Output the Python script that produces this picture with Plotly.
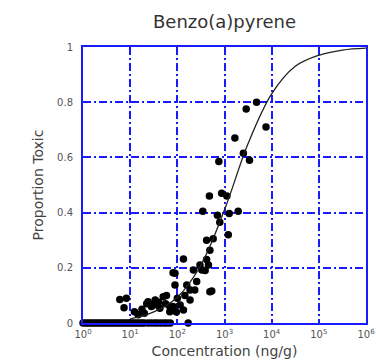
import plotly.graph_objects as go

# Sediment toxicity observations for benzo(a)pyrene
# log10 concentration (ng/g) and proportion of samples toxic
obs_log_conc = [
    # non-toxic samples at the low end
    0.00, 0.05, 0.10, 0.15, 0.20, 0.25, 0.30, 0.35, 0.40, 0.45, 0.50, 0.55,
    0.60, 0.65, 0.70, 0.75, 0.80, 0.85, 0.90, 0.95, 1.00, 1.05, 1.10, 1.15,
    1.20, 1.25, 1.30, 1.38, 1.45, 1.52, 1.58, 1.65, 1.72, 1.78, 1.85, 2.23,
    # low-proportion cluster
    0.78, 0.92, 0.87, 1.09, 1.17, 1.30, 1.35, 1.38, 1.45, 1.50, 1.53, 1.60,
    1.63, 1.70, 1.75, 1.77, 1.84, 1.84, 1.91, 1.98, 2.00, 2.06, 2.13, 2.16,
    2.27, 2.37, 2.69, 1.25,
    # rising section
    1.95, 1.95, 1.91, 2.13, 2.20, 2.27, 2.34, 2.41, 2.48, 2.52, 2.59, 2.62,
    2.66, 2.73, 2.69, 2.62, 2.76, 3.08, 2.90,
    # upper section
    2.54, 2.85, 3.10, 3.29, 2.68, 2.94, 3.05, 2.88, 3.40, 3.53, 3.22, 3.88,
    3.46, 3.68,
]
obs_prop_toxic = [
    0, 0, 0, 0, 0, 0, 0, 0, 0, 0, 0, 0,
    0, 0, 0, 0, 0, 0, 0, 0, 0, 0, 0, 0,
    0, 0, 0, 0, 0, 0, 0, 0, 0, 0, 0, 0,
    0.085, 0.090, 0.055, 0.041, 0.030, 0.035, 0.070, 0.077, 0.060, 0.065, 0.083, 0.075,
    0.053, 0.095, 0.070, 0.100, 0.060, 0.041, 0.060, 0.040, 0.090, 0.065, 0.047, 0.100,
    0.083, 0.120, 0.113, 0.050,
    0.138, 0.180, 0.182, 0.232, 0.138, 0.120, 0.192, 0.150, 0.210, 0.192, 0.190, 0.230,
    0.210, 0.116, 0.264, 0.300, 0.305, 0.320, 0.365,
    0.405, 0.390, 0.397, 0.405, 0.460, 0.470, 0.460, 0.585, 0.615, 0.590, 0.670, 0.710,
    0.775, 0.800,
]

# Fitted logistic response curve (log10 concentration, proportion toxic)
fit_log_conc = [1.0, 1.5, 2.0, 2.5, 3.0, 3.5, 4.0, 4.5, 5.0, 5.5, 6.0]
fit_prop_toxic = [0.015, 0.04, 0.093, 0.21, 0.41, 0.65, 0.83, 0.93, 0.97, 0.989, 0.996]

# Axis ticks
x_tick_exponents = [0, 1, 2, 3, 4, 5, 6]
y_tick_values = [0, 0.2, 0.4, 0.6, 0.8, 1]
y_tick_labels = ["0", "0.2", "0.4", "0.6", "0.8", "1"]

obs_conc = [10 ** v for v in obs_log_conc]
fit_conc = [10 ** v for v in fit_log_conc]

BLUE = "#1a1aff"
GREY = "#555555"
FONT = "DejaVu Sans"

fig = go.Figure()
fig.add_trace(go.Scatter(
    x=obs_conc, y=obs_prop_toxic, mode="markers",
    marker=dict(size=7.5, color="black"),
    cliponaxis=False, hoverinfo="skip",
))
fig.add_trace(go.Scatter(
    x=fit_conc, y=fit_prop_toxic, mode="lines",
    line=dict(color="#222222", width=1.3, shape="spline"),
    hoverinfo="skip",
))

fig.update_layout(
    width=376, height=360,
    margin=dict(l=83, r=10, t=47, b=37),
    paper_bgcolor="white", plot_bgcolor="white",
    showlegend=False,
    font=dict(family=FONT, color="#444444"),
    title=dict(
        text="Benzo(a)pyrene",
        font=dict(family=FONT, size=18, color="#333333"),
        x=0.597, xanchor="center",
        y=1 - 22 / 360, yanchor="middle", yref="container",
    ),
)
fig.update_xaxes(
    type="log", range=[0, 6], color=GREY, automargin=False,
    tickvals=[10 ** e for e in x_tick_exponents],
    ticktext=[f"10<sup>{e}</sup>" for e in x_tick_exponents],
    tickfont=dict(family=FONT, size=10, color=GREY),
    showgrid=True, gridcolor=BLUE, gridwidth=1.5, griddash="8px,3px,2px,3px",
    showline=True, linecolor=BLUE, linewidth=2, mirror=True,
    zeroline=False, ticks="", ticklabelstandoff=1,
    title=dict(text="Concentration (ng/g)",
               font=dict(family=FONT, size=14, color="#444444"),
               standoff=7),
)
fig.update_yaxes(
    range=[0, 1], color=GREY, automargin=False,
    tickvals=y_tick_values, ticktext=y_tick_labels,
    tickfont=dict(family=FONT, size=10, color=GREY),
    showgrid=True, gridcolor=BLUE, gridwidth=1.5, griddash="8px,3px,2px,3px",
    showline=True, linecolor=BLUE, linewidth=2, mirror=True,
    zeroline=False, ticks="", ticklabelstandoff=6,
    title=dict(text="Proportion Toxic",
               font=dict(family=FONT, size=14, color="#444444"),
               standoff=10),
)

fig.write_html("out.html")
